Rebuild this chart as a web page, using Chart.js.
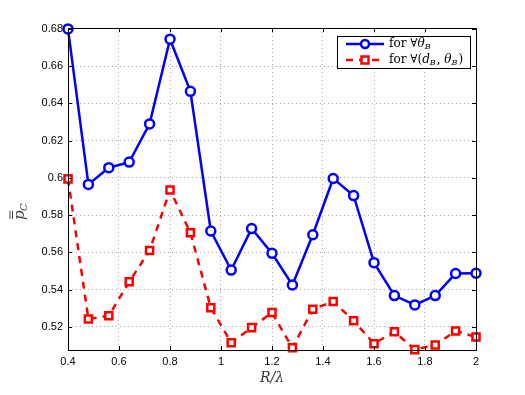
<!DOCTYPE html>
<html>
<head>
<meta charset="utf-8">
<script src="https://cdn.jsdelivr.net/npm/chart.js@4.4.0/dist/chart.umd.min.js"></script>
<style>
  body { margin: 0; background: #fff; }
  #wrap { width: 525px; height: 395px; }
</style>
</head>
<body>
<div id="wrap"><canvas id="chart" width="525" height="395"></canvas></div>
<script>
// R/lambda sample points
const rLambda = [0.4, 0.48, 0.56, 0.64, 0.72, 0.8, 0.88, 0.96, 1.04, 1.12, 1.2,
  1.28, 1.36, 1.44, 1.52, 1.6, 1.68, 1.76, 1.84, 1.92, 2.0];
const pTheta = [0.68, 0.5965, 0.6055, 0.6085, 0.629, 0.6745, 0.6465, 0.5715, 0.5505,
  0.5728, 0.5595, 0.5425, 0.5695, 0.5997, 0.5905, 0.5545, 0.5368, 0.5318, 0.5368, 0.5487, 0.5488];
const pDTheta = [0.5995, 0.5242, 0.526, 0.5442, 0.561, 0.5935, 0.5706, 0.5303, 0.5115,
  0.5196, 0.5277, 0.5088, 0.5295, 0.5336, 0.5233, 0.511, 0.5174, 0.5078, 0.5103, 0.5178, 0.5146];
const xTicks = [0.4, 0.6, 0.8, 1, 1.2, 1.4, 1.6, 1.8, 2];
const yTicks = [0.52, 0.54, 0.56, 0.58, 0.6, 0.62, 0.64, 0.66, 0.68];

const tickFont = { family: "Liberation Sans, Arial, sans-serif", size: 11 };
const serif = "'DejaVu Serif', serif";

// legend rows: [text, style] with style r = roman, i = italic, s = subscript
const legendRows = [
  [["for ", "r"], ["∀", "r"], ["θ", "i"], ["B", "s"]],
  [["for ", "r"], ["∀(", "r"], ["d", "i"], ["B", "s"], [", ", "r"], ["θ", "i"], ["B", "s"], [")", "r"]],
];

// box frame, inward tick marks, axis labels and legend
const framePlugin = {
  id: "frame",
  afterDatasetsDraw(chart) {
    const { ctx, chartArea: a, scales: { x, y } } = chart;
    ctx.save();
    ctx.strokeStyle = "#000";
    ctx.lineWidth = 1;
    ctx.strokeRect(a.left + 0.5, a.top + 0.5, a.right - a.left, a.bottom - a.top);
    ctx.beginPath();
    xTicks.forEach((v) => {
      const px = Math.round(x.getPixelForValue(v)) + 0.5;
      ctx.moveTo(px, a.bottom); ctx.lineTo(px, a.bottom - 4);
      ctx.moveTo(px, a.top); ctx.lineTo(px, a.top + 4);
    });
    yTicks.forEach((v) => {
      const py = Math.round(y.getPixelForValue(v)) + 0.5;
      ctx.moveTo(a.left, py); ctx.lineTo(a.left + 4, py);
      ctx.moveTo(a.right, py); ctx.lineTo(a.right - 4, py);
    });
    ctx.stroke();

    // y label: p double-bar sub C
    ctx.save();
    ctx.translate(24, 212);
    ctx.rotate(-Math.PI / 2);
    ctx.fillStyle = "#444";
    ctx.font = "italic 15px " + serif;
    ctx.fillText("p", -8, 0);
    ctx.fillRect(-7, -12, 8, 1);
    ctx.fillRect(-7, -14.5, 8, 1);
    ctx.font = "italic 10px " + serif;
    ctx.fillText("C", 1, 3);
    ctx.restore();

    // x label
    ctx.fillStyle = "#333";
    ctx.font = "italic 14px " + serif;
    ctx.textAlign = "center";
    ctx.textBaseline = "middle";
    ctx.fillText("R/λ", (a.left + a.right) / 2, 378);

    // legend
    const bx = 337, by = 36, bw = 133, bh = 32;
    ctx.fillStyle = "#fff";
    ctx.fillRect(bx, by, bw, bh);
    ctx.strokeStyle = "#000";
    ctx.lineWidth = 1;
    ctx.strokeRect(bx + 0.5, by + 0.5, bw, bh);
    [44, 60].forEach((yy, k) => {
      const ds = chart.data.datasets[k];
      ctx.strokeStyle = ds.borderColor;
      ctx.lineWidth = ds.borderWidth;
      ctx.setLineDash(ds.borderDash || []);
      ctx.beginPath();
      ctx.moveTo(346, yy); ctx.lineTo(384, yy);
      ctx.stroke();
      ctx.setLineDash([]);
      ctx.lineWidth = 2.5;
      ctx.fillStyle = "#fff";
      if (ds.pointStyle === "circle") {
        ctx.beginPath(); ctx.arc(365, yy, 4, 0, Math.PI * 2);
        ctx.fill(); ctx.stroke();
      } else {
        ctx.fillRect(361.5, yy - 3.5, 7, 7);
        ctx.strokeRect(361.5, yy - 3.5, 7, 7);
      }
      let tx = 389;
      ctx.fillStyle = "#000";
      ctx.textAlign = "left";
      legendRows[k].forEach(([t, st]) => {
        if (st === "s") {
          ctx.font = "italic 8px " + serif;
          ctx.fillText(t, tx, yy + 3);
          tx += ctx.measureText(t).width + 1;
        } else {
          ctx.font = (st === "i" ? "italic " : "") + "12px " + serif;
          ctx.fillText(t, tx, yy);
          tx += ctx.measureText(t).width;
        }
      });
    });
    ctx.restore();
  },
};

new Chart(document.getElementById("chart"), {
  type: "line",
  data: {
    datasets: [
      {
        label: "for ∀θB",
        data: rLambda.map((r, i) => ({ x: r, y: pTheta[i] })),
        borderColor: "#0000ff",
        backgroundColor: "#ffffff",
        borderWidth: 2.5,
        pointStyle: "circle",
        pointRadius: 4.5,
        pointBorderWidth: 2.5,
        tension: 0,
      },
      {
        label: "for ∀(dB,θB)",
        data: rLambda.map((r, i) => ({ x: r, y: pDTheta[i] })),
        borderColor: "#ff0000",
        backgroundColor: "#ffffff",
        borderWidth: 2.5,
        borderDash: [7, 6],
        pointStyle: "rect",
        pointRadius: 5,
        pointBorderWidth: 2.5,
        tension: 0,
      },
    ],
  },
  options: {
    responsive: false,
    animation: false,
    clip: false,
    layout: { padding: { left: 0, right: 49, top: 28, bottom: 0 } },
    plugins: { legend: { display: false }, tooltip: { enabled: false } },
    scales: {
      x: {
        type: "linear",
        min: 0.4,
        max: 2,
        afterBuildTicks: (s) => { s.ticks = xTicks.map((v) => ({ value: v })); },
        afterFit: (s) => { s.height = 45; },
        grid: { color: "#aaa", drawTicks: false },
        border: { display: false, dash: [1, 3] },
        ticks: { color: "#000", font: tickFont, padding: 5, maxRotation: 0,
          callback: (v) => String(+v.toFixed(2)) },
      },
      y: {
        type: "linear",
        min: 0.5076,
        max: 0.6805,
        afterBuildTicks: (s) => { s.ticks = yTicks.map((v) => ({ value: v })); },
        afterFit: (s) => { s.width = 68; },
        grid: { color: "#aaa", drawTicks: false },
        border: { display: false, dash: [1, 3] },
        ticks: { color: "#000", font: tickFont, padding: 5,
          callback: (v) => String(+v.toFixed(2)) },
      },
    },
  },
  plugins: [framePlugin],
});
</script>
</body>
</html>
